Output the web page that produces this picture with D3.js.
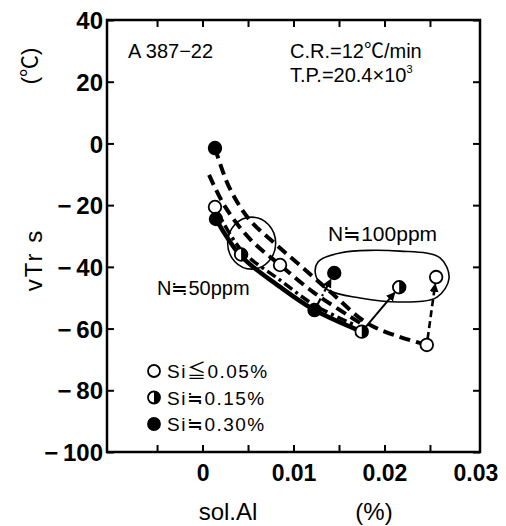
<!DOCTYPE html>
<html>
<head>
<meta charset="utf-8">
<script src="https://cdn.jsdelivr.net/npm/d3@7"></script>
<style>
  body { margin: 0; background: #fff; }
  text { font-family: "Liberation Sans", Arial, "Noto Sans CJK JP", sans-serif; fill: #000; }
</style>
</head>
<body>
<svg id="chart" width="506" height="526"></svg>
<script>
// axis ticks / labels
var xTickVals = [-0.005, 0, 0.005, 0.01, 0.015, 0.02, 0.025]
var xLabelVals = [0, 0.01, 0.02, 0.03]
var xLabels = ['0', '0.01', '0.02', '0.03']
var yTickVals = [40, 20, 0, -20, -40, -60, -80, -100]

// N≒50ppm points (sol.Al %, vTrs ℃)
var openN50 = [[0.00137, -20.6], [0.00852, -39.4], [0.02465, -65.3]]
var halfN50 = [[0.00424, -36.0], [0.0175, -61.0]]
var fullN50 = [[0.00137, -1.5], [0.00148, -24.5], [0.01231, -54.0]]

// N≒100ppm points
var openN100 = [[0.02568, -43.3]]
var halfN100 = [[0.02162, -46.6]]
var fullN100 = [[0.01448, -42.0]]

// fitted curves
var curveDashTop = [[0.00137, -1.5], [0.00290, -14.0], [0.00510, -24.5], [0.00797, -32.5],
  [0.01072, -39.5], [0.01401, -48.0], [0.01841, -58.8], [0.02465, -65.3]]
var curveDashMid = [[0.00072, -10.2], [0.00248, -20.5], [0.00522, -31.0], [0.00852, -39.4],
  [0.01231, -48.5], [0.01616, -56.0], [0.0175, -58.5]]
var curveDashDot = [[0.00137, -20.6], [0.00424, -34.5], [0.00852, -44.3], [0.01231, -52.4], [0.0167, -58.8]]
var curveSolid = [[0.00148, -24.5], [0.00424, -36.5], [0.00852, -46.5], [0.01231, -54], [0.0175, -61]]

// arrows N50 -> N100
var arrows = [
  {from: fullN50[2], to: fullN100[0], dash: '7,3,2,3', width: 2.2},
  {from: halfN50[1], to: halfN100[0], dash: null, width: 2},
  {from: openN50[2], to: openN100[0], dash: '7,4', width: 2.6}
]

// loops around groups
var loopN100 = [[0.01269, -38.4], [0.01511, -35.5], [0.02171, -34.9], [0.02611, -37.1], [0.0271, -43.6],
  [0.02578, -49.8], [0.02171, -51.4], [0.01731, -50.1], [0.01379, -47.5], [0.01247, -43.0]]
var loopN50 = [0.0054, -32.3]

var legendItems = [
  {type: 'open', label: 'Si≦0.05%'},
  {type: 'half', label: 'Si≒0.15%'},
  {type: 'full', label: 'Si≒0.30%'}
]

var svg = d3.select('#chart')
var pad = {left: 107, right: 480, top: 20, bottom: 452}

var x = d3.scaleLinear().domain([-0.0105, 0.0305]).range([pad.left, pad.right])
var y = d3.scaleLinear().domain([-100, 40]).range([pad.bottom, pad.top])

var defs = svg.append('defs')
defs.append('marker')
    .attr('id', 'head')
    .attr('viewBox', '0 0 10 10')
    .attr('refX', 9).attr('refY', 5)
    .attr('markerWidth', 9).attr('markerHeight', 9)
    .attr('markerUnits', 'userSpaceOnUse')
    .attr('orient', 'auto')
  .append('path')
    .attr('d', 'M0,0 L10,5 L0,10 z')

/*
    frame and axes
*/
svg.append('rect')
    .attr('x', pad.left).attr('y', pad.top)
    .attr('width', pad.right - pad.left).attr('height', pad.bottom - pad.top)
    .attr('fill', 'none').attr('stroke', '#000').attr('stroke-width', 2.5)

var tickStyle = function (g) {
  g.select('.domain').remove()
  g.selectAll('line').attr('stroke', '#000').attr('stroke-width', 2)
}

svg.append('g').attr('transform', `translate(0,${pad.bottom})`)
    .call(d3.axisBottom(x).tickValues(xTickVals).tickSize(-7).tickFormat(''))
    .call(tickStyle)
svg.append('g').attr('transform', `translate(0,${pad.top})`)
    .call(d3.axisTop(x).tickValues(xTickVals).tickSize(-7).tickFormat(''))
    .call(tickStyle)
svg.append('g').attr('transform', `translate(${pad.left},0)`)
    .call(d3.axisLeft(y).tickValues(yTickVals).tickSize(-7).tickFormat(''))
    .call(tickStyle)
svg.append('g').attr('transform', `translate(${pad.right},0)`)
    .call(d3.axisRight(y).tickValues(yTickVals).tickSize(-7).tickFormat(''))
    .call(tickStyle)

// tick labels
var xl = svg.append('g').attr('transform', `translate(0,${pad.bottom})`)
    .call(d3.axisBottom(x).tickValues(xLabelVals).tickSize(0)
      .tickFormat((d, i) => xLabels[i]))
xl.select('.domain').remove()
xl.selectAll('text').style('font-size', '23px').style('font-weight', 'bold')
    .attr('dy', 0).attr('y', 29).attr('font-family', null)

var yl = svg.append('g').attr('transform', `translate(${pad.left},0)`)
    .call(d3.axisLeft(y).tickValues(yTickVals).tickSize(0).tickPadding(4)
      .tickFormat(d => d < 0 ? '\u2212\u2009' + Math.abs(d) : d))
yl.select('.domain').remove()
yl.selectAll('text').style('font-size', '24px').style('font-weight', 'bold')
    .attr('dy', '0.36em').attr('font-family', null)

// axis titles
svg.append('text').attr('x', 228).attr('y', 520).attr('text-anchor', 'middle')
    .style('font-size', '24px').text('sol.Al')
svg.append('text').attr('x', 374).attr('y', 520).attr('text-anchor', 'middle')
    .style('font-size', '24px').text('(%)')
svg.append('text').attr('transform', 'translate(42,260) rotate(-90)').attr('text-anchor', 'middle')
    .style('font-size', '24px').style('letter-spacing', '2px').text('vTr s')
svg.append('text').attr('transform', 'translate(37,66) rotate(-90)').attr('text-anchor', 'middle')
    .style('font-size', '22px').text('(℃)')

/*
    annotations
*/
svg.append('text').attr('x', 128).attr('y', 58).style('font-size', '20px').text('A 387−22')
svg.append('text').attr('x', 290).attr('y', 58).style('font-size', '20px').text('C.R.=12℃/min')
var tp = svg.append('text').attr('x', 290).attr('y', 82).style('font-size', '20px')
tp.append('tspan').text('T.P.=20.4×10')
tp.append('tspan').attr('dy', -9).style('font-size', '11px').text('3')
svg.append('text').attr('x', 328).attr('y', 241).style('font-size', '21px').text('N≒100ppm')
svg.append('text').attr('x', 157).attr('y', 295).style('font-size', '20px').text('N≒50ppm')

var lineGen = d3.line().x(d => x(d[0])).y(d => y(d[1]))

svg.append('path')
    .attr('d', lineGen.curve(d3.curveCatmullRomClosed)(loopN100))
    .attr('fill', 'none').attr('stroke', '#000').attr('stroke-width', 1.6)
svg.append('ellipse')
    .attr('cx', x(loopN50[0])).attr('cy', y(loopN50[1]))
    .attr('rx', 24).attr('ry', 26)
    .attr('fill', 'none').attr('stroke', '#000').attr('stroke-width', 1.6)

/*
    curves
*/
var smooth = d3.line().x(d => x(d[0])).y(d => y(d[1])).curve(d3.curveCatmullRom)
var curves = [
  {data: curveDashTop, width: 4, dash: '11,6'},
  {data: curveDashMid, width: 4, dash: '11,6'},
  {data: curveDashDot, width: 3.5, dash: '10,4,3,4'},
  {data: curveSolid, width: 4.5, dash: null}
]
svg.append('g').selectAll('path').data(curves).join('path')
    .attr('d', d => smooth(d.data))
    .attr('fill', 'none').attr('stroke', '#000')
    .attr('stroke-width', d => d.width)
    .attr('stroke-dasharray', d => d.dash)

// arrows, shortened so heads stop at the circle edge
svg.append('g').selectAll('line').data(arrows).join('line')
    .each(function (d) {
      var x1 = x(d.from[0]), y1 = y(d.from[1]), x2 = x(d.to[0]), y2 = y(d.to[1])
      var len = Math.hypot(x2 - x1, y2 - y1)
      var ux = (x2 - x1) / len, uy = (y2 - y1) / len
      d3.select(this)
          .attr('x1', x1 + ux * 6).attr('y1', y1 + uy * 6)
          .attr('x2', x2 - ux * 7).attr('y2', y2 - uy * 7)
    })
    .attr('stroke', '#000').attr('stroke-width', d => d.width)
    .attr('stroke-dasharray', d => d.dash)
    .attr('marker-end', 'url(#head)')

/*
    markers
*/
function marker (g, type, cx, cy, r) {
  g.append('circle').attr('cx', cx).attr('cy', cy).attr('r', r)
      .attr('fill', type === 'full' ? '#000' : '#fff')
      .attr('stroke', '#000').attr('stroke-width', 1.8)
  if (type === 'half') {
    g.append('path')
        .attr('d', `M${cx},${cy - r} A${r},${r} 0 0 1 ${cx},${cy + r} Z`)
        .attr('fill', '#000')
  }
}

var pts = svg.append('g')
var groups = [
  {type: 'open', data: openN50.concat(openN100)},
  {type: 'half', data: halfN50.concat(halfN100)},
  {type: 'full', data: fullN50.concat(fullN100)}
]
groups.forEach(function (gr) {
  gr.data.forEach(function (d) { marker(pts, gr.type, x(d[0]), y(d[1]), 6.3) })
})

// legend
var leg = svg.append('g')
legendItems.forEach(function (d, i) {
  var cy = 371 + i * 26.5
  marker(leg, d.type, 154, cy, 6)
  leg.append('text').attr('x', 167).attr('y', cy + 7)
      .style('font-size', '19px').style('letter-spacing', '1.5px').text(d.label)
})
</script>
</body>
</html>
